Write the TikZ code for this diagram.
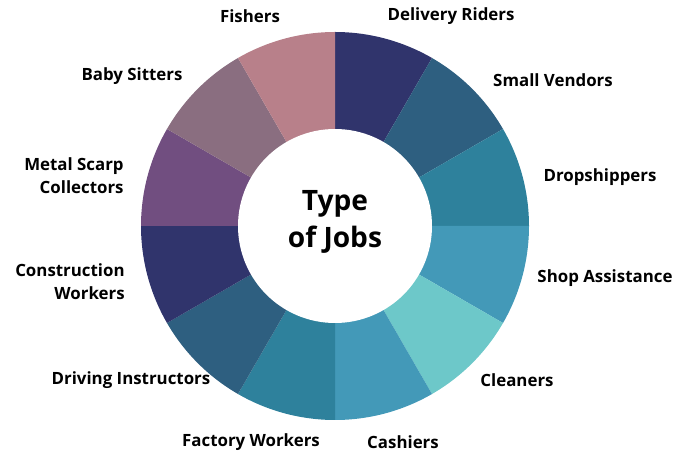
\documentclass[tikz,border=0pt]{standalone}
\usepackage{fontspec}
\setmainfont{Open Sans}
\usetikzlibrary{positioning}
\definecolor{jobnavy}{HTML}{30346C}
\definecolor{jobsteel}{HTML}{2E5F80}
\definecolor{jobteal}{HTML}{2E819C}
\definecolor{jobsky}{HTML}{4399B8}
\definecolor{jobmint}{HTML}{6DC8C9}
\definecolor{jobplum}{HTML}{714E80}
\definecolor{jobmauve}{HTML}{8A6E80}
\definecolor{jobrose}{HTML}{B8808A}

\begin{document}
\begin{tikzpicture}[x=0.02cm, y=0.02cm,
	joblabel/.style={font=\bfseries\fontsize{9.6}{13}\selectfont, align=center, inner sep=0pt},
	jobtitle/.style={font=\bfseries\fontsize{16}{21}\selectfont, align=center, inner sep=0pt}]
		\useasboundingbox (0,0) rectangle (697,453);
		\coordinate (c) at (335,227);

		%draw segments
		\foreach \a/\col in {60/jobnavy,30/jobsteel,0/jobteal,-30/jobsky,-60/jobmint,-90/jobsky,
			-120/jobteal,-150/jobsteel,180/jobnavy,150/jobplum,120/jobmauve,90/jobrose}
		\fill[\col] (c) -- +(\a:194) arc[start angle=\a, end angle=\a+30, radius=194] -- cycle;

		%draw hole
		\fill[white] (c) circle (97);
		\node[jobtitle] (title) at (335,231) {Type\\of Jobs};

		%names
		\node[joblabel] (fishers) at (250,437) {Fishers};
		\node[joblabel] (riders) at (451,437) {Delivery Riders};
		\node[joblabel] (vendors) at (553,373) {Small Vendors};
		\node[joblabel] (drop) at (600,276) {Dropshippers};
		\node[joblabel] (shop) at (605,175) {Shop Assistance};
		\node[joblabel] (cleaners) at (517,73) {Cleaners};
		\node[joblabel] (cashiers) at (403,11) {Cashiers};
		\node[joblabel] (factory) at (251,11) {Factory Workers};
		\node[joblabel] (driving) at (131,73) {Driving Instructors};
		\node[joblabel, align=right, anchor=east] (construction) at (125,171) {Construction\\Workers};
		\node[joblabel, align=right, anchor=east] (metal) at (124,277) {Metal Scarp\\Collectors};
		\node[joblabel] (sitters) at (132,377) {Baby Sitters};
\end{tikzpicture}
\end{document}
